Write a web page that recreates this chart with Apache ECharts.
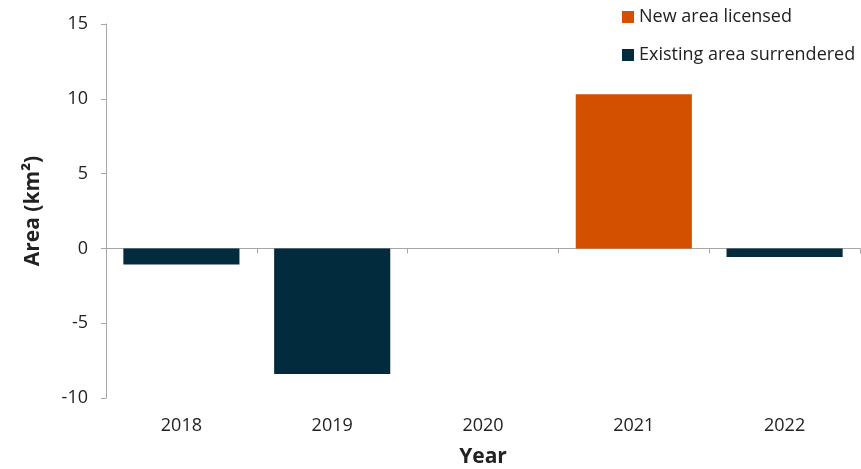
<!DOCTYPE html>
<html>
<head>
<meta charset="utf-8">
<script src="https://cdn.jsdelivr.net/npm/echarts@6/dist/echarts.min.js"></script>
<style>
  html, body { margin: 0; padding: 0; background: #fff; }
  #chart { width: 861px; height: 469px; }
</style>
</head>
<body>
<div id="chart"></div>
<script>
const years = ['2018', '2019', '2020', '2021', '2022']
const newAreaLicensed = [null, null, null, 10.3, null]
const existingAreaSurrendered = [-1.07, -8.4, null, null, -0.58]
const yTicks = [-10, -5, 0, 5, 10, 15]

const chart = echarts.init(document.getElementById('chart'))
const font = '"Open Sans", "Noto Sans", sans-serif'
const axisGrey = '#a6a6a6'

const option = {
  animation: false,
  textStyle: { fontFamily: font },
  legend: {
    orient: 'vertical',
    left: 622,
    top: 8,
    padding: 0,
    itemWidth: 12,
    itemHeight: 12,
    itemGap: 20,
    icon: 'rect',
    textStyle: { fontSize: 18, color: '#222', fontFamily: font },
    data: ['New area licensed', 'Existing area surrendered']
  },
  grid: {
    left: 106,
    right: 1,
    top: 24,
    bottom: 71,
    outerBoundsMode: 'none'
  },
  xAxis: [
    {
      type: 'category',
      data: years,
      axisLine: { onZero: true, lineStyle: { color: axisGrey, width: 1 } },
      axisTick: { show: true, length: 5, lineStyle: { color: axisGrey } },
      axisLabel: { show: false }
    },
    {
      type: 'category',
      data: years,
      position: 'bottom',
      axisLine: { show: false, onZero: false },
      axisTick: { show: false },
      axisLabel: { fontSize: 18, color: '#222', margin: 19, fontFamily: font },
      name: 'Year',
      nameLocation: 'middle',
      nameGap: 49,
      nameTextStyle: { fontSize: 21, fontWeight: 'bold', color: '#222', fontFamily: font }
    }
  ],
  yAxis: {
    type: 'value',
    min: yTicks[0],
    max: yTicks[yTicks.length - 1],
    interval: 5,
    name: 'Area (km²)',
    nameLocation: 'middle',
    nameGap: 62,
    nameTextStyle: { fontSize: 21, fontWeight: 'bold', color: '#222', fontFamily: font },
    axisLine: { show: true, lineStyle: { color: axisGrey } },
    axisTick: { show: true, length: 5, lineStyle: { color: axisGrey } },
    axisLabel: { fontSize: 18, color: '#222', margin: 18, fontFamily: font },
    splitLine: { show: false }
  },
  series: [
    {
      name: 'New area licensed',
      type: 'bar',
      stack: 'area',
      xAxisIndex: 0,
      barCategoryGap: '23%',
      data: newAreaLicensed,
      itemStyle: { color: '#d35000' }
    },
    {
      name: 'Existing area surrendered',
      type: 'bar',
      stack: 'area',
      xAxisIndex: 0,
      barCategoryGap: '23%',
      data: existingAreaSurrendered,
      itemStyle: { color: '#022b3e' }
    }
  ]
}
chart.setOption(option)
</script>
</body>
</html>
